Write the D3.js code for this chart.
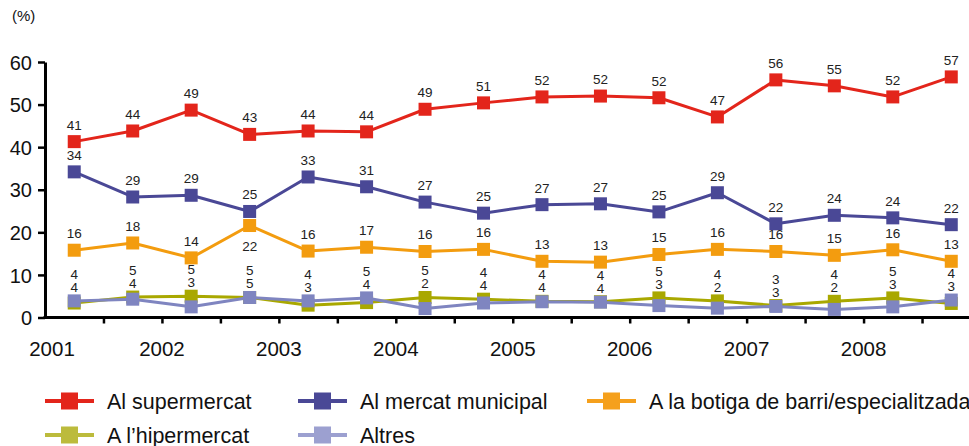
<!doctype html>
<html lang="ca">
<head>
<meta charset="utf-8" />
<title>Lloc de compra (%)</title>
<script src="https://cdn.jsdelivr.net/npm/d3@7/dist/d3.min.js"></script>
<style>
  html, body { margin: 0; padding: 0; background: #fff; }
  svg { display: block; font-family: "Liberation Sans", Arial, Helvetica, sans-serif; }
  .axis path, .axis line { stroke: #000; }
  .axis text { fill: #111; }
  .val { font-size: 13.5px; fill: #222; text-anchor: middle; }
  .legend text { font-size: 21.5px; fill: #111; }
</style>
</head>
<body>
<div id="chart"></div>
<script>
// 16 semesters, 2001-2008
const YEARS = ['2001', '2002', '2003', '2004', '2005', '2006', '2007', '2008'];
const Y_TICKS = [0, 10, 20, 30, 40, 50, 60];

// plotted values and the printed labels
const superValues = [41.3, 43.8, 48.7, 43.0, 43.8, 43.6, 48.9, 50.4, 51.8, 52.0, 51.6, 47.1, 55.8, 54.4, 51.8, 56.5];
const superLabels = [41, 44, 49, 43, 44, 44, 49, 51, 52, 52, 52, 47, 56, 55, 52, 57];
const mercatValues = [34.2, 28.3, 28.7, 24.9, 33.0, 30.7, 27.1, 24.5, 26.5, 26.7, 24.8, 29.3, 22.0, 24.0, 23.4, 21.8];
const mercatLabels = [34, 29, 29, 25, 33, 31, 27, 25, 27, 27, 25, 29, 22, 24, 24, 22];
const botigaValues = [15.8, 17.5, 14.0, 21.6, 15.6, 16.5, 15.5, 16.0, 13.2, 13.0, 14.8, 16.0, 15.5, 14.6, 15.9, 13.2];
const botigaLabels = [16, 18, 14, 22, 16, 17, 16, 16, 13, 13, 15, 16, 16, 15, 16, 13];
const hiperValues = [3.4, 4.8, 5.0, 4.7, 2.9, 3.5, 4.7, 4.3, 3.8, 3.7, 4.6, 3.9, 2.8, 3.8, 4.6, 3.3];
const hiperLabels = [4, 5, 5, 5, 3, 4, 5, 4, 4, 4, 5, 4, 3, 4, 5, 3];
const altresValues = [3.9, 4.3, 2.5, 4.7, 3.9, 4.6, 2.1, 3.4, 3.7, 3.6, 2.8, 2.2, 2.6, 1.9, 2.5, 4.1];
const altresLabels = [4, 4, 3, 5, 4, 5, 2, 4, 4, 4, 3, 2, 3, 2, 3, 4];

const W = 969, H = 446;
const x = d3.scaleLinear().domain([0, 16]).range([45, 980.5]);
const y = d3.scaleLinear().domain([0, 60]).range([317.5, 62]);

const svg = d3.select('#chart').append('svg').attr('width', W).attr('height', H);

svg.append('text').attr('x', 12).attr('y', 21).attr('font-size', 15).attr('fill', '#111').text('(%)');

// y axis
const yAxis = svg.append('g').attr('class', 'axis').attr('transform', `translate(${x(0)},0)`)
  .call(d3.axisLeft(y).tickValues(Y_TICKS).tickSize(7).tickSizeOuter(0).tickPadding(6));
yAxis.select('.domain').attr('stroke-width', 3);
yAxis.selectAll('.tick line').attr('stroke-width', 2.5);
yAxis.selectAll('.tick text').attr('font-size', 20).attr('dy', '0.36em');

// x axis: a tick at every semester boundary, year under every other one
const xAxis = svg.append('g').attr('class', 'axis').attr('transform', `translate(0,${y(0)})`)
  .call(d3.axisBottom(x).tickValues(d3.range(1, 16)).tickSize(6).tickSizeOuter(0).tickFormat(''));
xAxis.select('.domain').attr('stroke-width', 3).attr('d', `M${x(0) - 1.5},0H${W + 10}`);
xAxis.selectAll('.tick line').attr('stroke-width', 2.5);

svg.append('g').selectAll('text').data(YEARS).join('text')
  .attr('x', (d, i) => Math.max(x(i * 2), 52))
  .attr('y', 356)
  .attr('text-anchor', 'middle')
  .attr('font-size', 20.5).attr('fill', '#111')
  .text(d => d);

const SERIES = [
  { name: 'A l\u2019hipermercat', values: hiperValues, color: '#a9a800', legend: '#bcbb3c' },
  { name: 'Altres', values: altresValues, color: '#7f85c0', legend: '#9ca0d0' },
  { name: 'A la botiga de barri/especialitzada', values: botigaValues, color: '#f39c0f', legend: '#f5a01c' },
  { name: 'Al mercat municipal', values: mercatValues, color: '#4a4896', legend: '#4a4896' },
  { name: 'Al supermercat', values: superValues, color: '#e3251b', legend: '#e3251b' },
];

const line = d3.line().x((d, i) => x(i + 0.5)).y(d => y(d));
const SQ = 13;

SERIES.forEach(s => {
  const g = svg.append('g');
  g.append('path').attr('d', line(s.values)).attr('fill', 'none')
    .attr('stroke', s.color).attr('stroke-width', 3).attr('stroke-linejoin', 'round');
  g.selectAll('rect').data(s.values).join('rect')
    .attr('x', (d, i) => x(i + 0.5) - SQ / 2).attr('y', d => y(d) - SQ / 2)
    .attr('width', SQ).attr('height', SQ).attr('fill', s.color);
});

// value labels for the three upper series
function labelRow(values, labels, below) {
  svg.append('g').selectAll('text').data(labels).join('text')
    .attr('class', 'val')
    .attr('x', (d, i) => x(i + 0.5))
    .attr('y', (d, i) => below.includes(i) ? y(values[i]) + 25 : y(values[i]) - 12)
    .text(d => d);
}
labelRow(superValues, superLabels, []);
labelRow(mercatValues, mercatLabels, []);
labelRow(botigaValues, botigaLabels, [3]);

// hipermercat / altres: stacked pair, larger figure on top
const pairs = hiperLabels.map((h, i) => ({
  i, hi: Math.max(h, altresLabels[i]), lo: Math.min(h, altresLabels[i]),
  top: y(Math.max(hiperValues[i], altresValues[i]))
}));
const pg = svg.append('g');
pg.selectAll('text.lo').data(pairs).join('text').attr('class', 'val lo')
  .attr('x', d => x(d.i + 0.5)).attr('y', d => d.top - 9).text(d => d.lo);
pg.selectAll('text.hi').data(pairs).join('text').attr('class', 'val hi')
  .attr('x', d => x(d.i + 0.5)).attr('y', d => d.top - 22).text(d => d.hi);

// legend
const LEGEND = [SERIES[4], SERIES[3], SERIES[2], SERIES[0], SERIES[1]];
const LEG_X = [45, 298, 587, 45, 298];
const LEG_Y = [401, 401, 401, 435, 435];
const lg = svg.append('g').attr('class', 'legend');
LEGEND.forEach((s, k) => {
  const g = lg.append('g').attr('transform', `translate(${LEG_X[k]},${LEG_Y[k]})`);
  g.append('line').attr('x1', 0).attr('x2', 49).attr('stroke', s.legend).attr('stroke-width', 4);
  g.append('rect').attr('x', 16).attr('y', -8.5).attr('width', 17).attr('height', 17).attr('fill', s.legend);
  g.append('text').attr('x', 62).attr('y', 7.5).text(s.name);
});
</script>
</body>
</html>
